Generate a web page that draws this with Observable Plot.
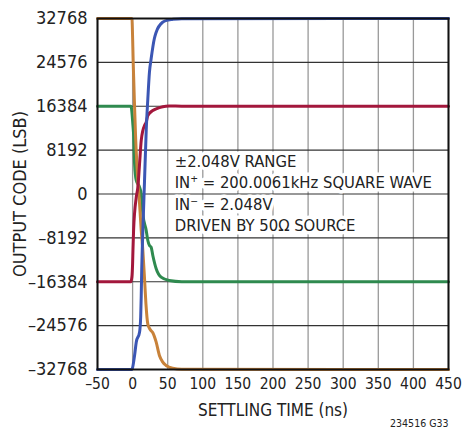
<!DOCTYPE html>
<html>
<head>
<meta charset="utf-8">
<script src="https://cdn.jsdelivr.net/npm/d3@7"></script>
<script src="https://cdn.jsdelivr.net/npm/@observablehq/plot@0.6"></script>
<style>
  html, body { margin: 0; padding: 0; background: #fff; }
  #chart { width: 464px; height: 436px; }
</style>
</head>
<body>
<div id="chart"></div>
<script>
// ---- data ----
const xTicks = [-50, 0, 50, 100, 150, 200, 250, 300, 350, 400, 450];
const yTicks = [-32768, -24576, -16384, -8192, 0, 8192, 16384, 24576, 32768];

const orangeT = [-50, -1.5, -1, 1, 2.5, 4.2, 7, 10, 12.3, 14.6, 17, 19, 21.7, 25, 28.8, 33.6, 38.2, 43, 47.7, 57, 70, 450];
const orangeV = [32768, 32768, 32700, 24000, 17500, 10924, 3500, -2000, -6810, -10550, -15830, -20500, -24300, -25300, -25900, -27670, -30150, -31400, -32020, -32550, -32740, -32768];

const blueT = [-50, -1.5, -0.5, 2.8, 5.2, 9.9, 11.5, 12.3, 13, 13.7, 14.6, 17, 19.4, 21.7, 24, 26.4, 31, 33.6, 42.9, 51, 56.7, 70, 450];
const blueV = [-32768, -32768, -32630, -30150, -27670, -25800, -23000, -19000, -14000, -10550, -6810, 2520, 11860, 17770, 22742, 25240, 29034, 30210, 32077, 32500, 32600, 32740, 32768];

const redT = [-50, -2.5, -1, 0, 0.5, 1.4, 5.2, 7.5, 9.9, 12.3, 14.6, 17, 19.4, 21.7, 28.8, 33.6, 42.9, 52, 70, 450];
const redV = [-16384, -16384, -15500, -13000, -10550, -6810, -600, 1270, 5640, 10000, 11860, 12791, 13410, 14659, 15590, 15909, 16300, 16420, 16400, 16384];

const greenT = [-50, -2.5, -1.8, 0.5, 1.5, 2.8, 5.2, 9.9, 12.3, 14.6, 19.4, 21.7, 24, 26.4, 28.8, 33.6, 40.6, 52, 70, 450];
const greenV = [16384, 16384, 16150, 12791, 10924, 5640, 2520, 1270, 25, -3700, -6810, -8680, -9600, -9930, -11480, -13960, -15530, -16150, -16370, -16384];

const seriesNames = ["S-green", "S-orange", "S-red", "S-blue"];
const seriesColors = ["#2f8a4f", "#c8823a", "#a3173c", "#3b56b4"];

const annotationLines = ["±2.048V RANGE", "IN⁺ = 200.0061kHz SQUARE WAVE", "IN⁻ = 2.048V", "DRIVEN BY 50Ω SOURCE"];
const annotationAt = {t: 60, v: 7900};
const caption = "234516 G33";
const xLabel = "SETTLING TIME (ns)";
const yLabel = "OUTPUT CODE (LSB)";

// ---- build table ----
const raw = [[greenT, greenV], [orangeT, orangeV], [redT, redV], [blueT, blueV]];
const rows = [];
seriesNames.forEach((name, k) => {
  const [T, V] = raw[k];
  T.forEach((t, i) => rows.push({series: name, t, v: V[i]}));
});

const fmt = d => d < 0 ? "\u2013" + Math.abs(d) : String(d);
const FONT = '"Liberation Sans Narrow", "DejaVu Sans Condensed", "Roboto", sans-serif';

const chart = Plot.plot({
  width: 464,
  height: 436,
  marginLeft: 97,
  marginRight: 16,
  marginTop: 18,
  marginBottom: 67,
  style: {fontFamily: FONT, fontSize: "18px", color: "#222", background: "#fff"},
  x: {domain: [-50, 450]},
  y: {domain: [-32768, 32768]},
  color: {domain: seriesNames, range: seriesColors},
  marks: [
    Plot.gridX(xTicks, {stroke: "#999", strokeOpacity: 1, strokeWidth: 1.3}),
    Plot.gridY(yTicks, {stroke: "#333", strokeOpacity: 1, strokeWidth: 1.2}),
    Plot.axisX(xTicks, {tickSize: 0, tickPadding: 8, tickFormat: fmt, fontSize: 15.5,
      label: null}),
    Plot.axisX({ticks: [], label: xLabel, labelAnchor: "center", labelArrow: "none", labelOffset: 46, fontSize: 17}),
    Plot.axisY(yTicks, {tickSize: 0, tickPadding: 10, tickFormat: fmt, fontSize: 18,
      label: yLabel, labelAnchor: "center", labelArrow: "none", labelOffset: 84}),
    Plot.line(rows, {x: "t", y: "v", z: "series", stroke: "series", strokeWidth: 3, curve: "monotone-x"}),
    Plot.text([annotationLines.join("\n")], {
      x: () => annotationAt.t, y: () => annotationAt.v, text: d => d,
      textAnchor: "start", lineAnchor: "top", lineHeight: 1.3, fontSize: 16.5,
      fill: "#222", stroke: "white", strokeWidth: 7
    }),
    Plot.frame({stroke: "#111", strokeWidth: 2}),
    Plot.text([caption], {frameAnchor: "bottom-right", text: d => d, dy: 57, dx: 0, fontSize: 10.5, textAnchor: "end"})
  ]
});
document.getElementById("chart").appendChild(chart);
</script>
</body>
</html>
